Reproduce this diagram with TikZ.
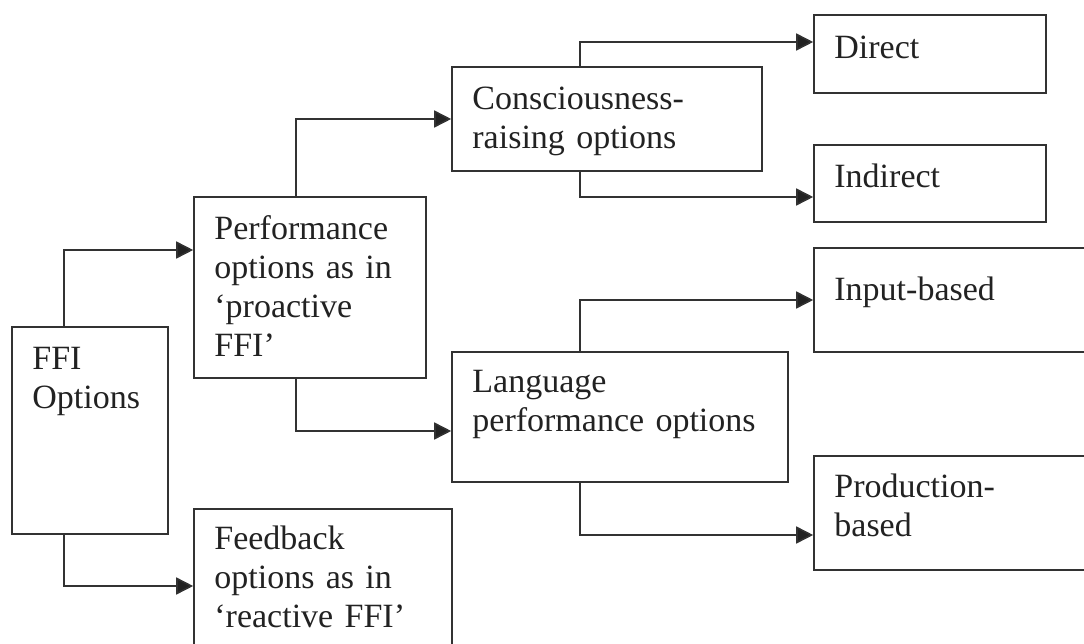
\documentclass[tikz,border=0pt]{standalone}
\usepackage{fontspec}
\setmainfont{Liberation Serif}
\usepackage{xcolor}
\definecolor{Ink}{RGB}{34,34,34}
\definecolor{Frame}{RGB}{50,50,50}
\usetikzlibrary{arrows.meta}
\tikzstyle{Box}=[draw=Frame,line width=1.6pt,inner sep=0pt]
\tikzstyle{Txt}=[anchor=north west,inner sep=0pt,text width=330pt,
align=left,text height=0pt,text=Ink,font=\fontsize{34pt}{39pt}\selectfont]
\tikzstyle{Link}=[draw=Frame,line width=1.6pt,
-{Triangle[length=17pt,width=17pt,fill=Ink]}]

\begin{document}
\begin{tikzpicture}[x=1pt,y=-1pt]
        \useasboundingbox(0,0)rectangle(1084,644);
        \clip(0,0)rectangle(1084,644);
        \node[Box,minimum width=156pt,minimum height=207pt](ffi)at(90,430.5){};
        \node[Box,minimum width=232pt,minimum height=181pt](perf)at(310,287.5){};
        \node[Box,minimum width=258pt,minimum height=154pt](feed)at(323,586){};
        \node[Box,minimum width=310pt,minimum height=104pt](cons)at(607,119){};
        \node[Box,minimum width=336pt,minimum height=130pt](lang)at(620,417){};
        \node[Box,minimum width=232pt,minimum height=78pt](direct)at(930,54){};
        \node[Box,minimum width=232pt,minimum height=77pt](indirect)at(930,183.5){};
        \node[Box,minimum width=286pt,minimum height=104pt](input)at(957,300){};
        \node[Box,minimum width=286pt,minimum height=114pt](prod)at(957,513){};
        \node[Txt](ffiT)at([xshift=21pt,yshift=-43pt]ffi.north west){FFI\\Options};
        \node[Txt](perfT)at([xshift=21pt,yshift=-43pt]perf.north west){Performance\\options as in\\‘proactive\\FFI’};
        \node[Txt](feedT)at([xshift=21pt,yshift=-41pt]feed.north west){Feedback\\options as in\\‘reactive FFI’};
        \node[Txt](consT)at([xshift=21pt,yshift=-43pt]cons.north west){Consciousness-\\raising options};
        \node[Txt](langT)at([xshift=21pt,yshift=-41pt]lang.north west){Language\\performance options};
        \node[Txt](directT)at([xshift=21pt,yshift=-44pt]direct.north west){Direct};
        \node[Txt](indirectT)at([xshift=21pt,yshift=-43pt]indirect.north west){Indirect};
        \node[Txt](inputT)at([xshift=21pt,yshift=-53pt]input.north west){Input-based};
        \node[Txt](prodT)at([xshift=21pt,yshift=-42pt]prod.north west){Production-\\based};
        \draw[Link]([xshift=-26pt]ffi.north)|-([yshift=37.5pt]perf.west);
        \draw[Link]([xshift=-26pt]ffi.south)|-(feed.west);
        \draw[Link]([xshift=-14pt]perf.north)|-(cons.west);
        \draw[Link]([xshift=-14pt]perf.south)|-([yshift=-14pt]lang.west);
        \draw[Link]([xshift=-27pt]cons.north)|-([yshift=12pt]direct.west);
        \draw[Link]([xshift=-27pt]cons.south)|-([yshift=-13.5pt]indirect.west);
        \draw[Link]([xshift=-40pt]lang.north)|-(input.west);
        \draw[Link]([xshift=-40pt]lang.south)|-([yshift=-22pt]prod.west);
    \end{tikzpicture}
\end{document}
